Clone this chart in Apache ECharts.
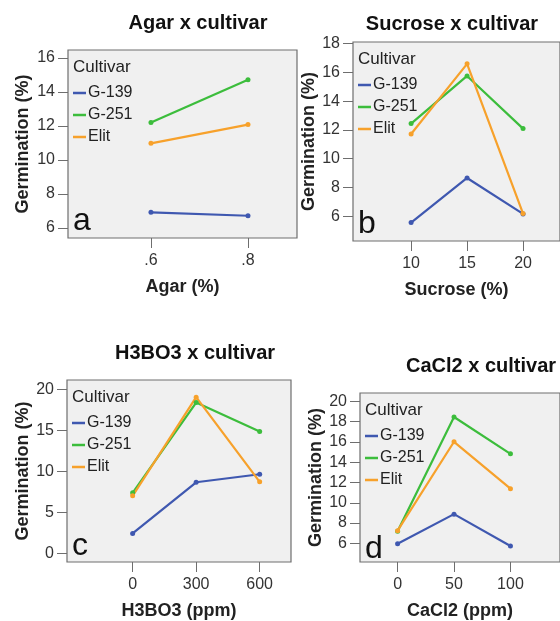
<!DOCTYPE html>
<html>
<head>
<meta charset="utf-8">
<script src="https://cdn.jsdelivr.net/npm/echarts@6/dist/echarts.min.js"></script>
<style>
  html, body { margin: 0; padding: 0; background: #fff; }
  #chart { width: 560px; height: 621px; }
</style>
</head>
<body>
<div id="chart"></div>
<script>
// cultivars and colours
var cultivars = ['G-139', 'G-251', 'Elit'];
var colors = ['#3f58b0', '#3cbd3c', '#f7a12b'];

// a: agar (%)
var agarLevels = [0.6, 0.8];
var agarG139 = [6.92, 6.72];
var agarG251 = [12.2, 14.72];
var agarElit = [10.98, 12.08];

// b: sucrose (%)
var sucroseLevels = [10, 15, 20];
var sucroseG139 = [5.56, 8.66, 6.16];
var sucroseG251 = [12.44, 15.75, 12.09];
var sucroseElit = [11.72, 16.59, 6.19];

// c: H3BO3 (ppm)
var boricLevels = [0, 300, 600];
var boricG139 = [2.43, 8.66, 9.64];
var boricG251 = [7.37, 18.38, 14.86];
var boricElit = [7.01, 19.04, 8.71];

// d: CaCl2 (ppm)
var calciumLevels = [0, 50, 100];
var calciumG139 = [5.97, 8.88, 5.75];
var calciumG251 = [7.19, 18.44, 14.81];
var calciumElit = [7.25, 16.0, 11.39];

// tick labels
var agarTicks = ['.6', '.8'];
var yTicksA = [6, 8, 10, 12, 14, 16];
var yTicksB = [6, 8, 10, 12, 14, 16, 18];
var yTicksC = [0, 5, 10, 15, 20];
var yTicksD = [6, 8, 10, 12, 14, 16, 18, 20];

var FONT = '"Liberation Sans", Arial, sans-serif';

var panels = [
  { title: 'Agar x cultivar', titlePos: [198, 13], xName: 'Agar (%)', letter: 'a', yGap: 36,
    grid: { left: 68, top: 50, width: 229, height: 188 },
    xMin: 0.429, xMax: 0.901, xTicks: agarLevels, yMin: 5.41, yMax: 16.47, yTicks: yTicksA,
    x: agarLevels, ys: [agarG139, agarG251, agarElit],
    fmt: function (v) { return agarTicks[agarLevels.indexOf(v)]; } },
  { title: 'Sucrose x cultivar', titlePos: [452, 14], xName: 'Sucrose (%)', letter: 'b', yGap: 31,
    grid: { left: 353, top: 42, width: 230, height: 199 },
    xMin: 4.81, xMax: 23.3, xTicks: sucroseLevels, yMin: 4.28, yMax: 18.11, yTicks: yTicksB,
    x: sucroseLevels, ys: [sucroseG139, sucroseG251, sucroseElit] },
  { title: 'H3BO3 x cultivar', titlePos: [195, 343], xName: 'H3BO3 (ppm)', letter: 'c', yGap: 35,
    grid: { left: 67, top: 380, width: 224, height: 183 },
    xMin: -310, xMax: 748, xTicks: boricLevels, yMin: -1.06, yMax: 21.13, yTicks: yTicksC,
    x: boricLevels, ys: [boricG139, boricG251, boricElit] },
  { title: 'CaCl2 x cultivar', titlePos: [481, 356], xName: 'CaCl2 (ppm)', letter: 'd', yGap: 32,
    grid: { left: 360, top: 393, width: 225, height: 173 },
    xMin: -33.3, xMax: 143.9, xTicks: calciumLevels, yMin: 4.17, yMax: 20.8, yTicks: yTicksD,
    x: calciumLevels, ys: [calciumG139, calciumG251, calciumElit] }
];

var myChart = echarts.init(document.getElementById('chart'));

var grids = [], xAxes = [], yAxes = [], series = [], legends = [], titles = [], graphics = [];

panels.forEach(function (p, i) {
  var g = p.grid;
  grids.push({
    left: g.left, top: g.top, width: g.width, height: g.height,
    show: true, backgroundColor: '#f0f0f0', borderColor: '#6e6e6e', borderWidth: 1.2
  });
  xAxes.push({
    gridIndex: i, type: 'value', min: p.xMin, max: p.xMax,
    name: p.xName, nameLocation: 'middle', nameGap: 40,
    nameTextStyle: { fontFamily: FONT, fontSize: 18, fontWeight: 'bold', color: '#222' },
    axisLine: { show: false, onZero: false },
    axisTick: { show: true, length: 10, customValues: p.xTicks, lineStyle: { color: '#6e6e6e' } },
    axisLabel: { customValues: p.xTicks, margin: 15, fontFamily: FONT, fontSize: 16, color: '#333',
      formatter: p.fmt || function (v) { return String(v); } },
    splitLine: { show: false }
  });
  yAxes.push({
    gridIndex: i, type: 'value', min: p.yMin, max: p.yMax,
    name: 'Germination (%)', nameLocation: 'middle', nameGap: p.yGap, nameRotate: 90,
    nameTextStyle: { fontFamily: FONT, fontSize: 18, fontWeight: 'bold', color: '#222' },
    axisLine: { show: false, onZero: false },
    axisTick: { show: true, length: 10, customValues: p.yTicks, lineStyle: { color: '#6e6e6e' } },
    axisLabel: { customValues: p.yTicks, margin: 13, fontFamily: FONT, fontSize: 16, color: '#333' },
    splitLine: { show: false }
  });
  p.ys.forEach(function (vals, k) {
    series.push({
      name: cultivars[k], type: 'line', xAxisIndex: i, yAxisIndex: i,
      data: p.x.map(function (xv, j) { return [xv, vals[j]]; }),
      symbol: 'circle', symbolSize: 5, showSymbol: true,
      lineStyle: { color: colors[k], width: 2.2 },
      itemStyle: { color: colors[k] },
      emphasis: { disabled: true },
      animation: false
    });
  });
  legends.push({
    data: cultivars, orient: 'vertical', left: g.left + 5, top: g.top + 34, padding: 0,
    icon: 'rect', itemWidth: 13, itemHeight: 2.5, itemGap: 4,
    textStyle: { fontFamily: FONT, fontSize: 16, color: '#222', padding: [0, 0, 0, -3], lineHeight: 18 },
    selectedMode: false
  });
  titles.push({
    text: p.title, left: p.titlePos[0], top: p.titlePos[1], textAlign: 'center', padding: 0,
    textStyle: { fontFamily: FONT, fontSize: 20, fontWeight: 'bold', color: '#111' }
  });
  graphics.push({
    type: 'text', left: g.left + 5, top: g.top + 9,
    style: { text: 'Cultivar', font: '17px ' + FONT, fill: '#222' }
  });
  graphics.push({
    type: 'text', left: g.left + 5, top: g.top + g.height - 33,
    style: { text: p.letter, font: '32px ' + FONT, fill: '#111' }
  });
});

var option = {
  backgroundColor: '#ffffff',
  animation: false,
  title: titles,
  legend: legends,
  grid: grids,
  xAxis: xAxes,
  yAxis: yAxes,
  graphic: graphics,
  series: series
};
myChart.setOption(option);
</script>
</body>
</html>
